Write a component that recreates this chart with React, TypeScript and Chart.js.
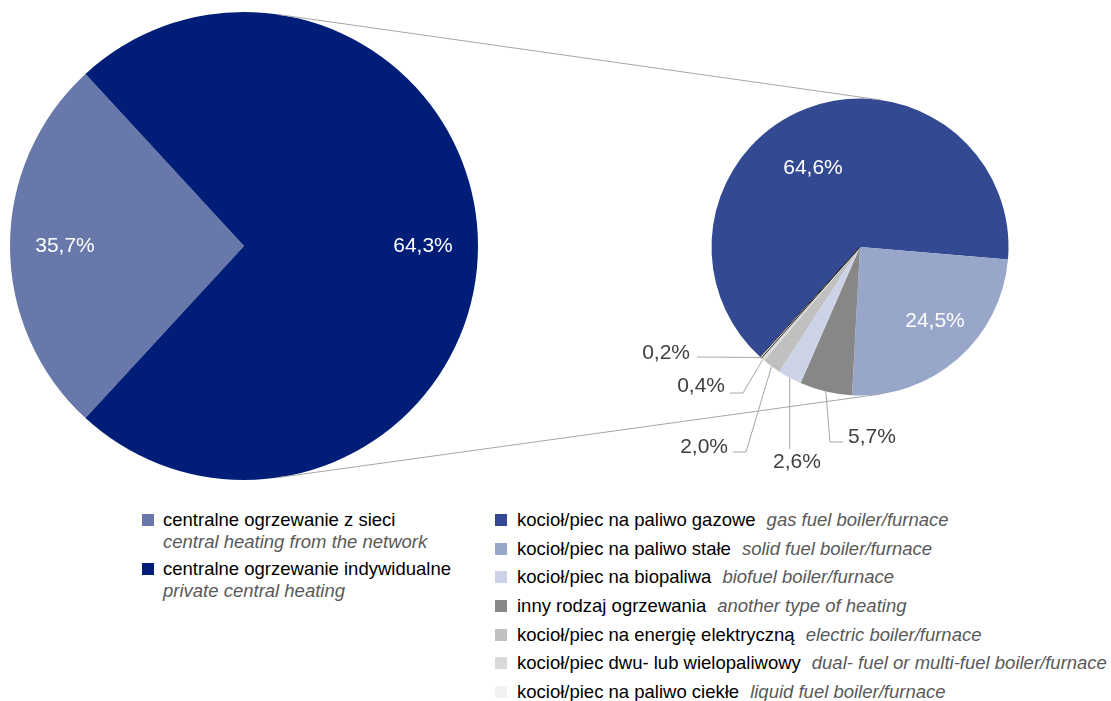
import { useEffect, useRef } from 'react';
import { Chart, registerables } from 'chart.js';

Chart.register(...registerables);

// ---------- DATA ----------
// main pie
const mainLabelsPl = ['centralne ogrzewanie z sieci', 'centralne ogrzewanie indywidualne'];
const mainLabelsEn = ['central heating from the network', 'private central heating'];
const mainValues = [35.7, 64.3];

// secondary pie: breakdown of private central heating (legend order)
const subLabelsPl = [
  'kocioł/piec na paliwo gazowe',
  'kocioł/piec na paliwo stałe',
  'kocioł/piec na biopaliwa',
  'inny rodzaj ogrzewania',
  'kocioł/piec na energię elektryczną',
  'kocioł/piec dwu- lub wielopaliwowy',
  'kocioł/piec na paliwo ciekłe',
];
const subLabelsEn = [
  'gas fuel boiler/furnace',
  'solid fuel boiler/furnace',
  'biofuel boiler/furnace',
  'another type of heating',
  'electric boiler/furnace',
  'dual- fuel or multi-fuel boiler/furnace',
  'liquid fuel boiler/furnace',
];
const subValues = [64.6, 24.5, 2.6, 5.7, 2.0, 0.4, 0.2];
// clockwise order of the slices in the drawn secondary pie (indexes into the arrays above)
const subPieOrder = [0, 1, 3, 2, 4, 5, 6];

// ---------- STYLE / LAYOUT ----------
const mainColors = ['#6878aa', '#001e77'];
const subColors = ['#334a93', '#98a6c9', '#cdd3e7', '#878787', '#c0c0c0', '#d9d9d9', '#f2f2f2'];
const FONT = '"Liberation Sans", Arial, Helvetica, sans-serif';
const CW = 1111;
const CH = 490;
const LEFT = { cx: 244, cy: 246, r: 234 };
const RIGHT = { cx: 860, cy: 247, r: 149 };
const LINE_COLOR = '#a6a6a6';
const LABEL_DARK = '#404040';

// label placement for the secondary pie (legend order), offsets from the pie centre
type Place = { inside?: boolean; dx: number; dy: number; align?: CanvasTextAlign; leader?: number[][] };
const subPlacement: Place[] = [
  { inside: true, dx: -47, dy: -79 },
  { inside: true, dx: 75, dy: 74 },
  { dx: -63, dy: 215, align: 'center', leader: [[-71, 202]] },
  { dx: -12, dy: 190, align: 'left', leader: [[-17, 195], [-30, 195]] },
  { dx: -132, dy: 200, align: 'right', leader: [[-127, 205], [-114, 205]] },
  { dx: -135, dy: 139, align: 'right', leader: [[-130, 146], [-117, 146]] },
  { dx: -170, dy: 106, align: 'right', leader: [[-163, 110]] },
];

const fmt = (v: number) => v.toFixed(1).replace('.', ',') + '%';

export default function App() {
  const c1 = useRef<HTMLCanvasElement | null>(null);
  const c2 = useRef<HTMLCanvasElement | null>(null);

  useEffect(() => {
    if (!c1.current || !c2.current) return;
    // pie-of-pie: the aggregated slice of the main pie is drawn with the total of the secondary pie
    const subTotal = subValues.reduce((a, b) => a + b, 0);
    const mainDrawn = [mainValues[0], subTotal];
    const span0 = (mainDrawn[0] / (mainDrawn[0] + mainDrawn[1])) * 360;

    const leftLabels = {
      id: 'leftLabels',
      afterDatasetsDraw(chart: any) {
        const ctx = chart.ctx;
        const meta = chart.getDatasetMeta(0);
        ctx.save();
        ctx.font = `21px ${FONT}`;
        ctx.fillStyle = '#ffffff';
        ctx.textAlign = 'center';
        ctx.textBaseline = 'middle';
        meta.data.forEach((arc: any, i: number) => {
          const mid = (arc.startAngle + arc.endAngle) / 2;
          const rr = arc.outerRadius * 0.765;
          ctx.fillText(fmt(mainValues[i]), arc.x + Math.cos(mid) * rr, arc.y + Math.sin(mid) * rr);
        });
        ctx.restore();
      },
    };

    const chart1 = new Chart(c1.current, {
      type: 'pie',
      data: {
        labels: mainLabelsPl,
        datasets: [
          {
            data: mainDrawn,
            backgroundColor: mainColors,
            borderWidth: 0,
            hoverBorderWidth: 0,
            hoverOffset: 0,
          } as any,
        ],
      },
      options: {
        responsive: false,
        animation: false,
        events: [],
        rotation: 270 - span0 / 2,
        layout: {
          padding: {
            left: LEFT.cx - LEFT.r,
            top: LEFT.cy - LEFT.r,
            right: CW - (LEFT.cx + LEFT.r),
            bottom: CH - (LEFT.cy + LEFT.r),
          },
        },
        plugins: { legend: { display: false }, tooltip: { enabled: false } },
      } as any,
      plugins: [leftLabels],
    });

    const rightLabels = {
      id: 'rightLabels',
      afterDatasetsDraw(chart: any) {
        const ctx = chart.ctx;
        const meta = chart.getDatasetMeta(0);
        ctx.save();
        // connector lines (external tangents of both pies)
        const a: any = chart1.getDatasetMeta(0).data[0];
        const b: any = meta.data[0];
        if (a && b) {
          const R1 = a.outerRadius;
          const R2 = b.outerRadius;
          const dx = b.x - a.x;
          const dy = b.y - a.y;
          const d = Math.hypot(dx, dy);
          const th = Math.atan2(dy, dx);
          const al = Math.acos((R1 - R2) / d);
          ctx.strokeStyle = LINE_COLOR;
          ctx.lineWidth = 1;
          [th - al, th + al].forEach((phi) => {
            ctx.beginPath();
            ctx.moveTo(a.x + R1 * Math.cos(phi), a.y + R1 * Math.sin(phi));
            ctx.lineTo(b.x + R2 * Math.cos(phi), b.y + R2 * Math.sin(phi));
            ctx.stroke();
          });
        }
        ctx.font = `21px ${FONT}`;
        ctx.textBaseline = 'middle';
        meta.data.forEach((arc: any, k: number) => {
          const idx = subPieOrder[k];
          const p = subPlacement[idx];
          const txt = fmt(subValues[idx]);
          if (p.inside) {
            ctx.fillStyle = '#ffffff';
            ctx.textAlign = 'center';
            ctx.fillText(txt, arc.x + p.dx, arc.y + p.dy);
            return;
          }
          const mid = (arc.startAngle + arc.endAngle) / 2;
          const ex = arc.x + Math.cos(mid) * arc.outerRadius;
          const ey = arc.y + Math.sin(mid) * arc.outerRadius;
          if (p.leader) {
            ctx.strokeStyle = LINE_COLOR;
            ctx.lineWidth = 1;
            ctx.beginPath();
            p.leader.forEach((pt, j) => {
              let px = arc.x + pt[0];
              const py = arc.y + pt[1];
              if (p.align === 'center') px = ex;
              if (j === 0) ctx.moveTo(px, py);
              else ctx.lineTo(px, py);
            });
            ctx.lineTo(ex, ey);
            ctx.stroke();
          }
          ctx.fillStyle = LABEL_DARK;
          ctx.textAlign = p.align || 'left';
          ctx.fillText(txt, arc.x + p.dx, arc.y + p.dy);
        });
        ctx.restore();
      },
    };

    const chart2 = new Chart(c2.current, {
      type: 'pie',
      data: {
        labels: subPieOrder.map((i) => subLabelsPl[i]),
        datasets: [
          {
            data: subPieOrder.map((i) => subValues[i]),
            backgroundColor: subPieOrder.map((i) => subColors[i]),
            borderColor: subPieOrder.map((i) => (i === 6 ? '#262626' : '#ffffff')),
            borderWidth: subPieOrder.map((i) => (i === 6 ? 1 : 0)),
            hoverBorderWidth: 0,
            hoverOffset: 0,
          } as any,
        ],
      },
      options: {
        responsive: false,
        animation: false,
        events: [],
        rotation: 222.3,
        layout: {
          padding: {
            left: RIGHT.cx - RIGHT.r,
            top: RIGHT.cy - RIGHT.r,
            right: CW - (RIGHT.cx + RIGHT.r),
            bottom: CH - (RIGHT.cy + RIGHT.r),
          },
        },
        plugins: { legend: { display: false }, tooltip: { enabled: false } },
      } as any,
      plugins: [rightLabels],
    });

    return () => {
      chart2.destroy();
      chart1.destroy();
    };
  }, []);

  const textBase = {
    position: 'absolute' as const,
    fontSize: '18.5px',
    lineHeight: '22px',
    whiteSpace: 'nowrap' as const,
    color: '#000000',
  };
  const sq = (color: string, left: number, cy: number) => (
    <div style={{ position: 'absolute', left, top: cy - 6, width: 12, height: 12, background: color }} />
  );

  return (
    <div
      style={{
        position: 'absolute',
        left: 0,
        top: 0,
        width: CW,
        height: 701,
        overflow: 'hidden',
        background: '#ffffff',
        fontFamily: FONT,
      }}
    >
      <canvas ref={c1} width={CW} height={CH} style={{ position: 'absolute', left: 0, top: 0 }} />
      <canvas ref={c2} width={CW} height={CH} style={{ position: 'absolute', left: 0, top: 0 }} />
      {mainLabelsPl.map((t, i) => {
        const cy = 520 + i * 49;
        return (
          <div key={'m' + i}>
            {sq(mainColors[i], 142, cy)}
            <div style={{ ...textBase, left: 163, top: cy - 11 }}>{t}</div>
            <div style={{ ...textBase, left: 163, top: cy + 21.5 - 11, color: '#595959', fontStyle: 'italic' }}>
              {mainLabelsEn[i]}
            </div>
          </div>
        );
      })}
      {subLabelsPl.map((t, i) => {
        const cy = 520 + i * 28.67;
        return (
          <div key={'s' + i}>
            {sq(subColors[i], 495, cy)}
            <div style={{ ...textBase, left: 517, top: cy - 11 }}>
              {t}
              <span style={{ marginLeft: 11, color: '#595959', fontStyle: 'italic' }}>{subLabelsEn[i]}</span>
            </div>
          </div>
        );
      })}
    </div>
  );
}
